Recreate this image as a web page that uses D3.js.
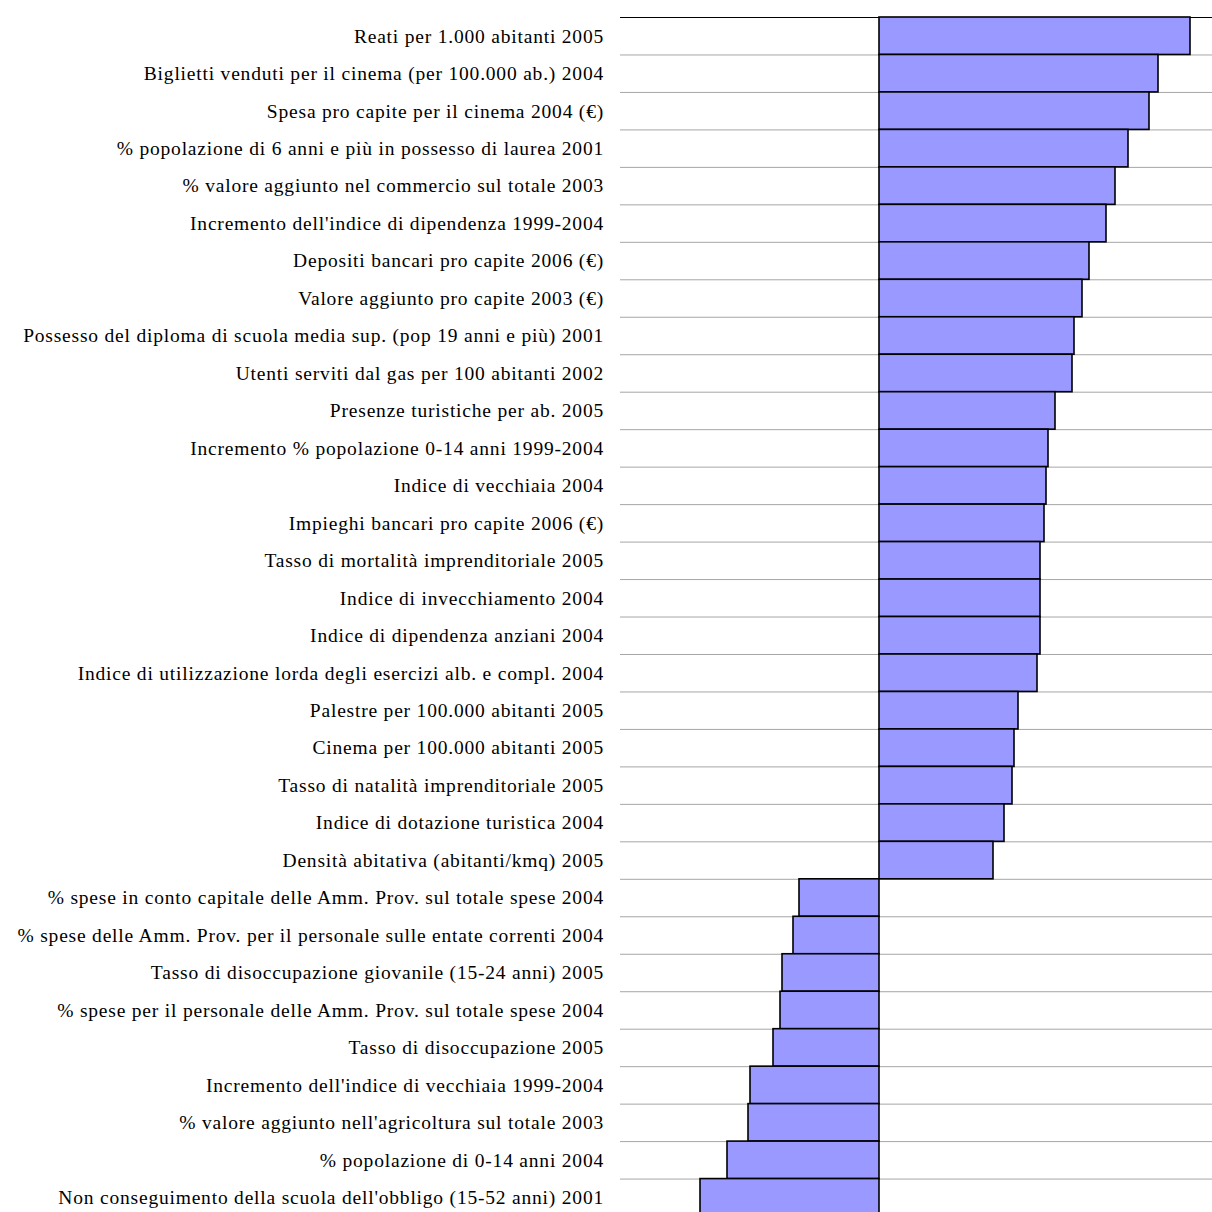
<!DOCTYPE html>
<html><head><meta charset="utf-8">
<script src="https://cdn.jsdelivr.net/npm/d3@7"></script>
<style>html,body{margin:0;padding:0;background:#fff;overflow:hidden}
text.lbl{font-family:"Liberation Serif","Times New Roman","DejaVu Serif",serif;font-size:19.5px;letter-spacing:0.8px;}</style>
</head><body>
<svg id="c" width="1212" height="1212"></svg>
<script>
const categories = [
"Reati per 1.000 abitanti 2005",
"Biglietti venduti per il cinema (per 100.000 ab.) 2004",
"Spesa pro capite per il cinema 2004 (€)",
"% popolazione di 6 anni e più in possesso di laurea 2001",
"% valore aggiunto nel commercio sul totale 2003",
"Incremento dell'indice di dipendenza 1999-2004",
"Depositi bancari pro capite 2006  (€)",
"Valore aggiunto pro capite 2003 (€)",
"Possesso del diploma di scuola media sup. (pop 19 anni e più) 2001",
"Utenti serviti dal gas per 100 abitanti 2002",
"Presenze turistiche per ab. 2005",
"Incremento % popolazione 0-14 anni 1999-2004",
"Indice di vecchiaia 2004",
"Impieghi bancari pro capite 2006 (€)",
"Tasso di mortalità imprenditoriale 2005",
"Indice di invecchiamento 2004",
"Indice di dipendenza anziani 2004",
"Indice di utilizzazione lorda degli esercizi alb. e compl. 2004",
"Palestre per 100.000 abitanti 2005",
"Cinema per 100.000 abitanti 2005",
"Tasso di natalità imprenditoriale 2005",
"Indice di dotazione turistica 2004",
"Densità abitativa  (abitanti/kmq) 2005",
"% spese in conto capitale delle Amm. Prov. sul totale spese 2004",
"% spese delle Amm. Prov. per il personale sulle entate correnti 2004",
"Tasso di disoccupazione giovanile (15-24 anni) 2005",
"% spese per il personale delle Amm. Prov. sul totale spese 2004",
"Tasso di disoccupazione 2005",
"Incremento dell'indice di vecchiaia 1999-2004",
"% valore aggiunto nell'agricoltura sul totale 2003",
"% popolazione di 0-14 anni 2004",
"Non conseguimento della scuola dell'obbligo (15-52 anni) 2001"
];
const values = [311, 279, 270, 249, 236, 227, 210, 203, 195, 193, 176, 169, 167, 165, 161, 161, 161, 158, 139, 135, 133, 125, 114,
 -80, -86, -97, -99, -106, -129, -131, -152, -179];
const domainX = [-259, 333];

const svg = d3.select("#c");
const x = d3.scaleLinear().domain(domainX).range([620, 1212]);
const rowH = 37.47;
const y = d3.scaleBand().domain(categories).range([17, 17 + rowH * categories.length]).padding(0);

svg.append("g").selectAll("line").data(categories.slice(1)).join("line")
  .attr("x1", 620).attr("x2", 1212)
  .attr("y1", d => y(d) + 0.5).attr("y2", d => y(d) + 0.5)
  .attr("stroke", "#a6a6a6").attr("stroke-width", 1);

svg.append("line").attr("x1", 620).attr("x2", 1212).attr("y1", 17.5).attr("y2", 17.5)
  .attr("stroke", "#000").attr("stroke-width", 1.2);

svg.append("g").selectAll("rect").data(categories).join("rect")
  .attr("x", (d, i) => Math.min(x(0), x(values[i])))
  .attr("y", d => y(d))
  .attr("width", (d, i) => Math.abs(x(values[i]) - x(0)))
  .attr("height", y.bandwidth())
  .attr("fill", "#9999ff").attr("stroke", "#000").attr("stroke-width", 1.6);

svg.append("g").selectAll("text").data(categories).join("text")
  .attr("class", "lbl")
  .attr("x", 604).attr("y", d => y(d) + y.bandwidth() / 2)
  .attr("dy", "0.35em").attr("text-anchor", "end")
  .attr("fill", "#000")
  .text(d => d);
</script>
</body></html>
